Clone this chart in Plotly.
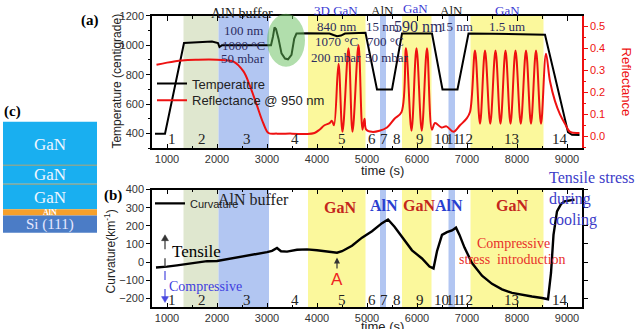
import plotly.graph_objects as go

W, H = 639, 329
SERIF = "Liberation Serif"
SANS = "Liberation Sans"

# ---------------- data ----------------
t_temp = [760, 960, 1340, 1600, 1900, 2020, 2050, 2100, 3080, 3120, 3150, 3180, 3230, 3290, 3360,
          3420, 3490, 3545, 3590, 3800, 4250, 4330, 4400, 4480, 4560, 4970, 5200, 5500, 5700,
          6300, 6510, 6810, 7030, 7500, 8000, 8560, 8750, 8950, 9020, 9100, 9250]
temperature = [400, 400, 1015, 1018, 1025, 1015, 988, 1000, 1000, 1060, 1122, 1110, 1045, 945, 910,
               905, 935, 1045, 1080, 1082, 1080, 1070, 1062, 1066, 1080, 1085, 700, 700, 1080,
               1080, 700, 700, 1080, 1078, 1075, 1072, 800, 500, 410, 392, 390]

t_refl = [790, 1000, 1300, 1600, 2000, 2330, 2530, 2660, 2790, 2930, 3030, 3200, 3500, 3800, 3950,
          4050, 4150, 4250, 4300, 4340,
          4430, 4510, 4630, 4710, 4830, 4910, 4950, 4985, 5100, 5250, 5400, 5550, 5690,
          5780, 5890, 5990, 6095, 6200, 6300, 6360, 6490, 6590, 6730, 6860, 6990, 7060,
          7160, 7260, 7360, 7465, 7570, 7670, 7770, 7870, 7970, 8075, 8180, 8280, 8380, 8480, 8580,
          8660, 8760, 8860, 8960, 9060, 9250]
reflectance = [0.325, 0.335, 0.345, 0.348, 0.348, 0.34, 0.295, 0.228, 0.146, 0.057, 0.015, 0.012, 0.012, 0.01, 0.015,
               0.03, 0.05, 0.06, 0.07, 0.05,
               0.33, 0.02, 0.40, 0.02, 0.415, 0.03, 0.08, 0.03, 0.02, 0.025, 0.04, 0.08, 0.11,
               0.40, 0.025, 0.40, 0.025, 0.40, 0.03, 0.06, 0.04, 0.045, 0.02, 0.05, 0.08, 0.11,
               0.39, 0.057, 0.39, 0.057, 0.39, 0.057, 0.39, 0.057, 0.39, 0.057, 0.39, 0.057, 0.39, 0.057, 0.375,
               0.25, 0.16, 0.10, 0.057, 0.02, 0.015]

t_curv = [780, 900, 1000, 1200, 1500, 1800, 2000, 2200, 2500, 2800, 3000, 3100, 3200, 3280, 3400,
          3600, 3800, 4000, 4200, 4400, 4500, 4700, 4900, 5100, 5300, 5420, 5550, 5700, 5900,
          6100, 6250, 6330, 6400, 6500, 6600, 6700, 6780, 6850, 6950, 7100, 7300, 7500, 7700,
          7900, 8100, 8300, 8500, 8620, 8680, 8730, 8800, 8880, 8950, 9050, 9150]
curvature = [-30, -28, -25, -18, -5, 5, 6, 15, 30, 45, 55, 62, 78, 60, 58,
             68, 70, 65, 58, 52, 60, 90, 135, 170, 215, 235, 195, 140, 65,
             20, -25, -35, 60, 150, 165, 175, 190, 150, 80, -5, -75, -120, -150,
             -170, -182, -190, -198, -205, -60, 150, 280, 320, 335, 340, 345]

# growth phases: start, end (s), kind
phase_start = [1330, 2030, 3820, 5260, 5700, 6630, 7070]
phase_end = [2030, 3040, 4970, 5380, 6290, 6760, 8530]
phase_kind = ["anneal", "AlN", "GaN", "AlN", "GaN", "AlN", "GaN"]
phase_colors = {"anneal": "#dfe7cf", "AlN": "#b2c6f2", "GaN": "#fbf89c"}

step_labels = [str(i) for i in range(1, 15)]
step_pos = [1090, 1690, 2590, 3560, 4490, 5090, 5330, 5590, 6050, 6490, 6710, 6960, 7890, 8860]


def px(x):
    return x / W


def py(y):
    return 1 - y / H


fig = go.Figure()
fig.add_trace(go.Scatter(x=t_temp, y=temperature, mode="lines", name="Temperature",
                         line=dict(color="black", width=2), xaxis="x", yaxis="y",
                         legend="legend", showlegend=True))
fig.add_trace(go.Scatter(x=t_refl, y=reflectance, mode="lines", name="Reflectance @ 950 nm",
                         line=dict(color="#ee1111", width=2, shape="spline", smoothing=1.0),
                         xaxis="x", yaxis="y2", legend="legend2", showlegend=True))
fig.add_trace(go.Scatter(x=t_curv, y=curvature, mode="lines", name="Curvature",
                         line=dict(color="black", width=2.4), xaxis="x2", yaxis="y3",
                         legend="legend3", showlegend=True))

shapes = []
for s, e, k in zip(phase_start, phase_end, phase_kind):
    for xr, yr in (("x", "y domain"), ("x2", "y3 domain")):
        shapes.append(dict(type="rect", xref=xr, yref=yr, x0=s, x1=e, y0=0, y1=1,
                           fillcolor=phase_colors[k], line=dict(width=0), layer="below"))

# green ellipse highlighting the temperature bump
shapes.append(dict(type="circle", xref="paper", yref="paper", x0=px(267), x1=px(305),
                   y0=py(62), y1=py(8), fillcolor="rgba(100,190,90,0.5)",
                   line=dict(width=0), layer="above"))

# panel (c) layer stack
layers = [(118, 162, "#19aff0"), (163, 181, "#19aff0"), (182, 207, "#19aff0"),
          (207, 213.5, "#f5a02c"), (213.5, 231, "#4b7cc6")]
for y0, y1, c in layers:
    shapes.append(dict(type="rect", xref="paper", yref="paper", x0=px(3), x1=px(97),
                       y0=py(y1), y1=py(y0), fillcolor=c, line=dict(width=0)))
for ys in (162.3, 181.6):
    shapes.append(dict(type="line", xref="paper", yref="paper", x0=px(3), x1=px(97),
                       y0=py(ys), y1=py(ys), line=dict(color="#7fa89c", width=1.5)))

# dashed arrows in panel (b)
shapes.append(dict(type="line", xref="paper", yref="paper", x0=px(165), x1=px(165),
                   y0=py(266), y1=py(238), line=dict(color="#333", width=1.2, dash="dash")))
shapes.append(dict(type="line", xref="paper", yref="paper", x0=px(165), x1=px(165),
                   y0=py(270), y1=py(297), line=dict(color="#4a4ae0", width=1.2, dash="dash")))


def head(x, y, up, color):
    # small triangular arrowhead, tip at (x, y) in pixels
    d = 6 if up else -6
    path = "M {} {} L {} {} L {} {} Z".format(px(x), py(y), px(x - 3.5), py(y + d),
                                              px(x + 3.5), py(y + d))
    shapes.append(dict(type="path", xref="paper", yref="paper", path=path,
                       fillcolor=color, line=dict(color=color, width=0.5)))


head(165, 233, True, "#333")
head(165, 302, False, "#4a4ae0")

ann = []


def txt(text, x, y, size, color="#222", family=SERIF, bold=False, **kw):
    if bold:
        text = "<b>" + text + "</b>"
    d = dict(text=text, x=px(x), y=py(y), xref="paper", yref="paper", showarrow=False,
             font=dict(size=size, color=color, family=family), xanchor="center", yanchor="middle")
    d.update(kw)
    ann.append(d)


NAVY = "#2c2c60"
BLUE = "#3a3ad4"
RED = "#c4261c"
# panel a annotations
txt("(a)", 90, 15, 15, "black", bold=True)
txt("AlN buffer", 242, 8, 14, "#222")
txt("100 nm", 243, 25, 13, NAVY)
txt("1000 °C", 243, 40, 13, NAVY)
txt("50 mbar", 243, 53, 13, NAVY)
txt("3D GaN", 336, 5, 13, BLUE)
txt("840 nm", 336, 21, 13, NAVY)
txt("1070 °C", 336, 36, 13, NAVY)
txt("200 mbar", 336, 52, 13, NAVY)
txt("AlN", 382, 5, 13, "#222")
txt("15 nm", 382, 21, 13, NAVY)
txt("700 °C", 385, 36, 13, NAVY)
txt("50 mbar", 387, 52, 13, NAVY)
txt("GaN", 415, 3, 13, BLUE)
txt("590 nm", 418, 21, 16, NAVY)
txt("AlN", 451, 5, 13, "#222")
txt("15 nm", 456, 21, 13, NAVY)
txt("GaN", 507, 5, 13, BLUE)
txt("1.5 um", 507, 21, 13, NAVY)

# axis titles
txt("Temperature (centigrade)", 117, 77, 12, "#222", family=SANS, textangle=-90)
txt("Reflectance", 626, 77, 13, "#ee1111", family=SANS, textangle=90)
txt("time (s)", 382, 168, 13, "#222", family=SANS)
txt("Curvature(km<sup>-1</sup>)", 110, 250, 12, "#222", family=SANS, textangle=-90)
txt("time (s)", 382, 326, 13, "#222", family=SANS)

# panel b annotations
txt("(b)", 113, 193, 15, "black", bold=True)
txt("AlN buffer", 253, 197, 16, "#222")
txt("GaN", 340, 205, 16, RED, bold=True)
txt("AlN", 384, 203, 16, "#2a3fd0", bold=True)
txt("GaN", 419, 203, 16, RED, bold=True)
txt("AlN", 449, 203, 16, "#2a3fd0", bold=True)
txt("GaN", 512, 203, 16, RED, bold=True)
txt("Tensile stress<br>during<br>cooling", 547, 197, 16, "#3c3cc8", xanchor="left", align="left")
txt("Compressive", 513, 242, 14, "#e8302a")
txt("stress  introduction", 512, 258, 14, "#e8302a")
txt("Tensile", 196, 250, 17, "black")
txt("Compressive", 205, 286, 14, "#4040e0")

# point A
ann.append(dict(x=4400, y=25, xref="x2", yref="y3", ax=0, ay=22, text="A", showarrow=True,
                arrowhead=2, arrowsize=1, arrowwidth=1.2, arrowcolor="#333",
                font=dict(size=17, color="#ee2222", family=SANS)))

# panel c texts
txt("(c)", 12, 107, 15, "black", bold=True)
txt("GaN", 50, 141, 17, "#eef6ff")
txt("GaN", 50, 172, 17, "#eef6ff")
txt("GaN", 50, 195, 17, "#eef6ff")
txt("AlN", 50, 210, 8, "#ffffff", bold=True)
txt("Si (111)", 50, 223, 15, "#e6e8ff")

# step numbers in both panels
for lab, pos in zip(step_labels, step_pos):
    for xr, yr, ys in (("x", "y domain", -1), ("x2", "y3 domain", -3)):
        ann.append(dict(text=lab, x=pos, y=0, xref=xr, yref=yr, showarrow=False,
                        xanchor="center", yanchor="bottom", yshift=ys,
                        font=dict(size=15, color="#222", family=SERIF)))

tickfont = dict(size=11, color="#333", family=SANS)
xdom = [px(152), px(582)]
common_x = dict(range=[700, 9300], tickmode="linear", tick0=1000, dtick=1000, ticks="inside",
                ticklen=5, tickcolor="black", showline=True, linecolor="black", linewidth=1.5,
                mirror="ticks", showgrid=False, zeroline=False, tickfont=tickfont,
                minor=dict(ticks="inside", ticklen=3, dtick=500, tick0=500, tickcolor="black"))

fig.update_layout(
    width=W, height=H, margin=dict(l=0, r=0, t=0, b=0), showlegend=True,
    paper_bgcolor="white", plot_bgcolor="white",
    xaxis=dict(domain=xdom, anchor="y", **common_x),
    xaxis2=dict(domain=xdom, anchor="y3", **common_x),
    yaxis=dict(domain=[py(145), py(10)], range=[300, 1200], tickmode="linear", tick0=0, dtick=200,
               ticks="outside", ticklen=4, tickcolor="black", showline=True, linecolor="black",
               linewidth=1.5, showgrid=False, zeroline=False, tickfont=tickfont,
               minor=dict(ticks="outside", ticklen=2, dtick=100, tick0=0, tickcolor="black")),
    yaxis2=dict(overlaying="y", side="right", anchor="x", range=[-0.055, 0.548], tickmode="linear",
                tick0=0, dtick=0.1, tickformat=".1f", ticks="outside", ticklen=4, tickcolor="#ee1111",
                showline=True, linecolor="#ee1111", linewidth=1.5, showgrid=False, zeroline=False,
                tickfont=dict(size=11, color="#ee1111", family=SANS),
                minor=dict(ticks="outside", ticklen=2, dtick=0.05, tick0=0, tickcolor="#ee1111")),
    yaxis3=dict(domain=[py(307), py(187)], anchor="x2", range=[-250, 400], tickmode="linear",
                tick0=0, dtick=100, ticks="outside", ticklen=4, tickcolor="black", showline=True,
                linecolor="black", linewidth=1.5, mirror="ticks", showgrid=False, zeroline=False,
                tickfont=tickfont),
    legend=dict(x=px(152), y=py(79), xanchor="left", yanchor="middle", bgcolor="rgba(0,0,0,0)",
                font=dict(size=13, color="#222", family=SANS)),
    legend2=dict(x=px(152), y=py(96), xanchor="left", yanchor="middle", bgcolor="rgba(0,0,0,0)",
                 font=dict(size=13, color="#222", family=SANS)),
    legend3=dict(x=px(150), y=py(201), xanchor="left", yanchor="middle", bgcolor="rgba(0,0,0,0)",
                 font=dict(size=11, color="#222", family=SANS)),
    shapes=shapes, annotations=ann,
)

fig.write_html("out.html", config={"displayModeBar": False})
